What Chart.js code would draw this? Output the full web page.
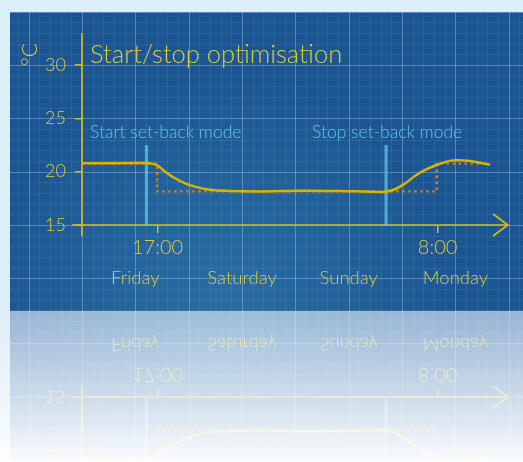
<!DOCTYPE html>
<html>
<head>
<meta charset="utf-8">
<script src="https://cdn.jsdelivr.net/npm/chart.js@4/dist/chart.umd.min.js"></script>
<style>
  html, body { margin: 0; padding: 0; background: #ddeefb; }
  #wrap { width: 523px; height: 462px; }
</style>
</head>
<body>
<div id="wrap"><canvas id="grafico" width="523" height="462"></canvas></div>
<script>
// hours counted from Friday 00:00
const curveHours = [0, 13, 15.3, 16.9, 18.7, 20.9, 23.2, 25.4, 28.8, 33.3, 40, 49, 58, 64.8, 68.2, 70.4, 72.7, 74.9, 77.2, 79.6, 82.1, 83.9, 87.3, 89.5, 91.8];
const curveTemps = [20.78, 20.8, 20.78, 20.6, 20.0, 19.38, 18.9, 18.6, 18.3, 18.19, 18.15, 18.22, 18.19, 18.12, 18.12, 18.35, 18.9, 19.6, 20.16, 20.6, 20.94, 21.06, 21.0, 20.84, 20.66];
const setpointHours = [0, 16.9, 79.8, 89.5];
const setpointTemps = [20.75, 18.15, 20.75, 20.75];
const markerHours = [14.5, 68.4];
const markerTop = 22.5;
const markerLabels = ['Start set-back mode', 'Stop set-back mode'];
const yTicks = [15, 20, 25, 30];
const timeTickHours = [17, 80];
const timeTickLabels = ['17:00', '8:00'];
const dayCentres = [12, 36, 60, 84];
const dayNames = ['Friday', 'Saturday', 'Sunday', 'Monday'];
const chartTitle = 'Start/stop optimisation';

const FONT = 'Lato, "Open Sans", sans-serif';
const YELLOW = '#d6bd10';
const TEXT_YELLOW = '#dfca3c';
const CYAN_TEXT = '#62c4e4';
const W = 523, H = 462;
const panel = { left: 10, top: 12, right: 523, bottom: 311 };

function pts(xs, ys) { return xs.map((x, i) => ({ x: x, y: ys[i] })); }

// fondo azul con cuadricula
const fondo = {
  id: 'fondo',
  beforeDraw(chart) {
    const ctx = chart.ctx, xs = chart.scales.x, ys = chart.scales.y;
    ctx.save();
    ctx.fillStyle = '#ddeefb';
    ctx.fillRect(0, 0, W, H);
    ctx.fillStyle = '#1c5692';
    ctx.fillRect(panel.left, panel.top, panel.right - panel.left, panel.bottom - panel.top);
    const g = ctx.createRadialGradient(220, 300, 10, 220, 300, 230);
    g.addColorStop(0, 'rgba(70,160,200,0.3)');
    g.addColorStop(1, 'rgba(70,160,200,0)');
    ctx.fillStyle = g;
    ctx.fillRect(panel.left, panel.top, panel.right - panel.left, panel.bottom - panel.top);
    ctx.beginPath();
    ctx.rect(panel.left, panel.top, panel.right - panel.left, panel.bottom - panel.top);
    ctx.clip();
    ctx.lineWidth = 1;
    for (let k = -10; k <= 50; k++) {
      const px = Math.round(xs.getPixelForValue(k * 2.4)) + 0.5;
      if (px < panel.left || px > panel.right) continue;
      ctx.strokeStyle = k % 5 === 0 ? 'rgba(190,210,240,0.38)' : 'rgba(160,190,230,0.12)';
      ctx.beginPath(); ctx.moveTo(px, panel.top); ctx.lineTo(px, panel.bottom); ctx.stroke();
    }
    for (let v = 0; v <= 40; v++) {
      const py = Math.round(ys.getPixelForValue(v)) + 0.5;
      if (py < panel.top || py > panel.bottom) continue;
      ctx.strokeStyle = v % 5 === 0 ? 'rgba(190,210,240,0.38)' : 'rgba(160,190,230,0.12)';
      ctx.beginPath(); ctx.moveTo(panel.left, py); ctx.lineTo(panel.right, py); ctx.stroke();
    }
    ctx.restore();
  },
  beforeDatasetsDraw(chart) {
    // ejes amarillos con flecha
    const ctx = chart.ctx, xs = chart.scales.x, ys = chart.scales.y;
    const x0 = xs.getPixelForValue(0), y0 = ys.getPixelForValue(15);
    const xEnd = chart.chartArea.right + 1;
    ctx.save();
    ctx.strokeStyle = YELLOW;
    ctx.lineWidth = 1.6;
    ctx.beginPath();
    ctx.moveTo(x0, ys.getPixelForValue(33)); ctx.lineTo(x0, y0 + 11);
    ctx.moveTo(x0 - 10, y0); ctx.lineTo(xEnd, y0);
    ctx.moveTo(xEnd - 15, y0 - 11); ctx.lineTo(xEnd, y0); ctx.lineTo(xEnd - 15, y0 + 11);
    ctx.stroke();
    ctx.restore();
  },
  afterDraw(chart) {
    const ctx = chart.ctx;
    ctx.save();
    ctx.fillStyle = TEXT_YELLOW;
    ctx.font = '300 25.5px ' + FONT;
    ctx.textBaseline = 'alphabetic';
    ctx.textAlign = 'left';
    ctx.fillText(chartTitle, 90, 63);
    ctx.fillStyle = CYAN_TEXT;
    ctx.font = '300 17.5px ' + FONT;
    const lx = [90, 312];
    markerLabels.forEach((t, i) => ctx.fillText(t, lx[i], 138));
    ctx.restore();

    // reflejo
    const dpr = chart.currentDevicePixelRatio || 1;
    const src = 150;
    ctx.save();
    ctx.translate(0, 2 * panel.bottom);
    ctx.scale(1, -1);
    ctx.drawImage(chart.canvas, 0, (panel.bottom - src) * dpr, W * dpr, src * dpr, 0, panel.bottom - src, W, src);
    ctx.restore();
    ctx.save();
    const g = ctx.createLinearGradient(0, panel.bottom, 0, H);
    g.addColorStop(0, 'rgba(226,238,250,0.62)');
    g.addColorStop(0.5, 'rgba(240,246,252,0.8)');
    g.addColorStop(1, 'rgba(255,255,255,0.98)');
    ctx.fillStyle = g;
    ctx.fillRect(0, panel.bottom, W, H - panel.bottom);
    ctx.restore();
  }
};

const datasets = [
  {
    label: 'Temperature',
    data: pts(curveHours, curveTemps),
    borderColor: '#d8b400',
    borderWidth: 2.5,
    pointRadius: 0,
    tension: 0.4,
    fill: false
  },
  {
    label: 'Set point',
    data: pts(setpointHours, setpointTemps),
    borderColor: '#e37a18',
    borderWidth: 2.4,
    borderDash: [2.4, 3.6],
    pointRadius: 0,
    stepped: 'before',
    fill: false
  }
];
markerHours.forEach((h, i) => {
  datasets.push({
    label: markerLabels[i],
    data: [{ x: h, y: 15 }, { x: h, y: markerTop }],
    borderColor: 'rgba(100,200,230,0.72)',
    borderWidth: 3.2,
    pointRadius: 0,
    fill: false
  });
});

new Chart(document.getElementById('grafico'), {
  type: 'line',
  data: { datasets: datasets },
  plugins: [fondo],
  options: {
    responsive: false,
    animation: false,
    layout: { padding: { left: 10, right: 16, top: 43, bottom: 150 } },
    plugins: { legend: { display: false }, tooltip: { enabled: false } },
    scales: {
      x: {
        type: 'linear', position: 'bottom', weight: 0, min: 0, max: 95.6,
        afterBuildTicks: s => { s.ticks = timeTickHours.map(v => ({ value: v })); },
        afterFit: s => { s.height = 40; },
        border: { display: false },
        grid: { drawOnChartArea: false, color: YELLOW, lineWidth: 1.5, tickLength: 8 },
        ticks: {
          autoSkip: false, maxRotation: 0, padding: 3, color: TEXT_YELLOW,
          font: { family: FONT, size: 20, weight: '300' },
          callback: (v, i) => timeTickLabels[i]
        }
      },
      days: {
        type: 'linear', position: 'bottom', weight: 1, min: 0, max: 95.6,
        afterBuildTicks: s => { s.ticks = dayCentres.map(v => ({ value: v })); },
        afterFit: s => { s.height = 47; },
        border: { display: false },
        grid: { display: false, drawTicks: false },
        ticks: {
          autoSkip: false, maxRotation: 0, padding: 2, color: TEXT_YELLOW,
          font: { family: FONT, size: 18.5, weight: '300' },
          callback: (v, i) => dayNames[i]
        }
      },
      y: {
        min: 15, max: 32.06,
        afterBuildTicks: s => { s.ticks = yTicks.map(v => ({ value: v })); },
        afterFit: s => { s.width = 72; },
        border: { display: false },
        grid: { drawOnChartArea: false, color: YELLOW, lineWidth: 1.5, tickLength: 7 },
        ticks: {
          padding: 9, color: TEXT_YELLOW,
          font: { family: FONT, size: 18, weight: '300' }
        },
        title: {
          display: true, text: '°C', align: 'end', color: TEXT_YELLOW,
          padding: { top: 8, bottom: 0 },
          font: { family: FONT, size: 21, weight: '300' }
        }
      }
    }
  }
});
</script>
</body>
</html>
